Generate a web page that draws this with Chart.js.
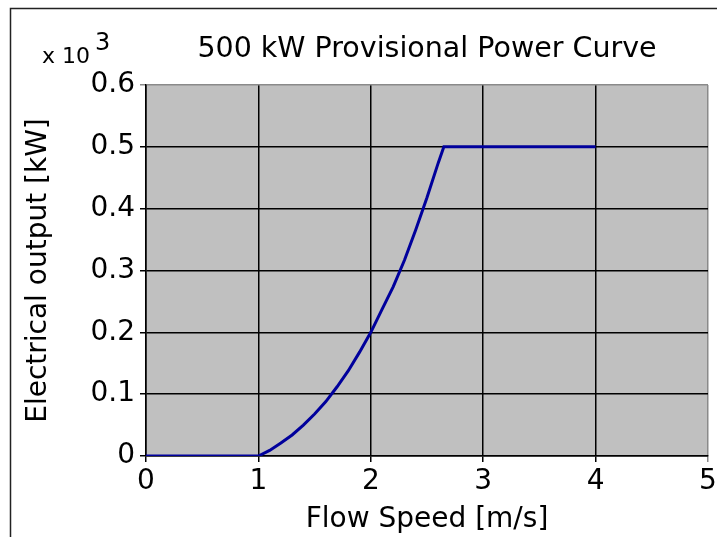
<!DOCTYPE html>
<html>
<head>
<meta charset="utf-8">
<script src="https://cdn.jsdelivr.net/npm/chart.js@4/dist/chart.umd.min.js"></script>
<style>
  body { margin: 0; background: #ffffff; }
  canvas { display: block; }
</style>
</head>
<body>
<canvas id="curve" width="717" height="537"></canvas>
<script>
// flow speed [m/s] and electrical output [kW x 10^3]
const speeds = [0, 1, 1.1, 1.2, 1.3, 1.4, 1.5, 1.6, 1.7, 1.8, 1.9, 2.0, 2.1, 2.2, 2.3, 2.4, 2.5, 2.6, 2.65, 3, 3.5, 4]
const outputs = [0, 0, 0.009, 0.021, 0.034, 0.050, 0.068, 0.088, 0.112, 0.138, 0.168, 0.200, 0.237, 0.274, 0.317, 0.366, 0.418, 0.474, 0.500, 0.500, 0.500, 0.500]

const chartTitle = '500 kW Provisional Power Curve'
const xTitle = 'Flow Speed [m/s]'
const yTitle = 'Electrical output [kW]'

const FONT = "'DejaVu Sans', sans-serif"

// gray plot background, figure frame, title and the exponent note
const decorations = {
  id: 'decorations',
  beforeDraw(chart) {
    const { ctx, chartArea } = chart
    ctx.save()
    ctx.fillStyle = '#c0c0c0'
    ctx.fillRect(chartArea.left, chartArea.top, chartArea.right - chartArea.left, chartArea.bottom - chartArea.top)
    ctx.restore()
  },
  afterDraw(chart) {
    const { ctx, chartArea } = chart
    ctx.save()
    // frame of the figure
    ctx.strokeStyle = '#222222'
    ctx.lineWidth = 1.5
    ctx.beginPath()
    ctx.moveTo(10.5, 537)
    ctx.lineTo(10.5, 8.5)
    ctx.lineTo(717, 8.5)
    ctx.stroke()

    ctx.fillStyle = '#000000'
    ctx.font = '28.5px ' + FONT
    ctx.textAlign = 'center'
    ctx.textBaseline = 'alphabetic'
    ctx.fillText(chartTitle, (chartArea.left + chartArea.right) / 2, 57)

    ctx.textAlign = 'left'
    ctx.font = '22px ' + FONT
    ctx.fillText('x 10', 42, 63)
    ctx.font = '24px ' + FONT
    ctx.fillText('3', 95, 50)
    ctx.restore()
  }
}

const lastTickGray = (max) => (c) => (c.tick && c.tick.value >= max - 1e-9 ? '#8a8a8a' : '#000000')

new Chart(document.getElementById('curve'), {
  type: 'line',
  data: {
    datasets: [{
      data: speeds.map((s, i) => ({ x: s, y: outputs[i] })),
      borderColor: '#00009c',
      borderWidth: 3,
      pointRadius: 0,
      tension: 0,
      fill: false
    }]
  },
  options: {
    responsive: false,
    animation: false,
    layout: { padding: { left: 12, top: 85, right: 9, bottom: 0 } },
    plugins: {
      legend: { display: false },
      title: { display: false },
      tooltip: { enabled: false }
    },
    scales: {
      x: {
        type: 'linear',
        min: 0,
        max: 5,
        ticks: {
          stepSize: 1,
          color: '#000000',
          font: { family: FONT, size: 28 },
          padding: 3,
          maxRotation: 0
        },
        grid: {
          color: lastTickGray(5),
          lineWidth: 1.5,
          tickLength: 6
        },
        border: { color: '#000000', width: 1.5 },
        title: {
          display: true,
          text: xTitle,
          color: '#000000',
          font: { family: FONT, size: 28 },
          padding: { top: 0, bottom: 0 }
        },
        afterFit(scale) {
          scale.height = 81
          // let the "5" label run to the canvas edge like the original
          scale.paddingRight = 0
          scale.paddingLeft = 0
        }
      },
      y: {
        type: 'linear',
        min: 0,
        max: 0.6,
        ticks: {
          stepSize: 0.1,
          color: '#000000',
          font: { family: FONT, size: 28 },
          padding: 5,
          callback: (v) => (v === 0 ? '0' : Number(v).toFixed(1))
        },
        grid: {
          color: lastTickGray(0.6),
          lineWidth: 1.5,
          tickLength: 6
        },
        border: { color: '#000000', width: 1.5 },
        title: {
          display: true,
          text: yTitle,
          color: '#000000',
          font: { family: FONT, size: 28 },
          padding: { top: 10, bottom: 0 }
        },
        afterFit(scale) { scale.width = 134 }
      }
    }
  },
  plugins: [decorations]
})
</script>
</body>
</html>
